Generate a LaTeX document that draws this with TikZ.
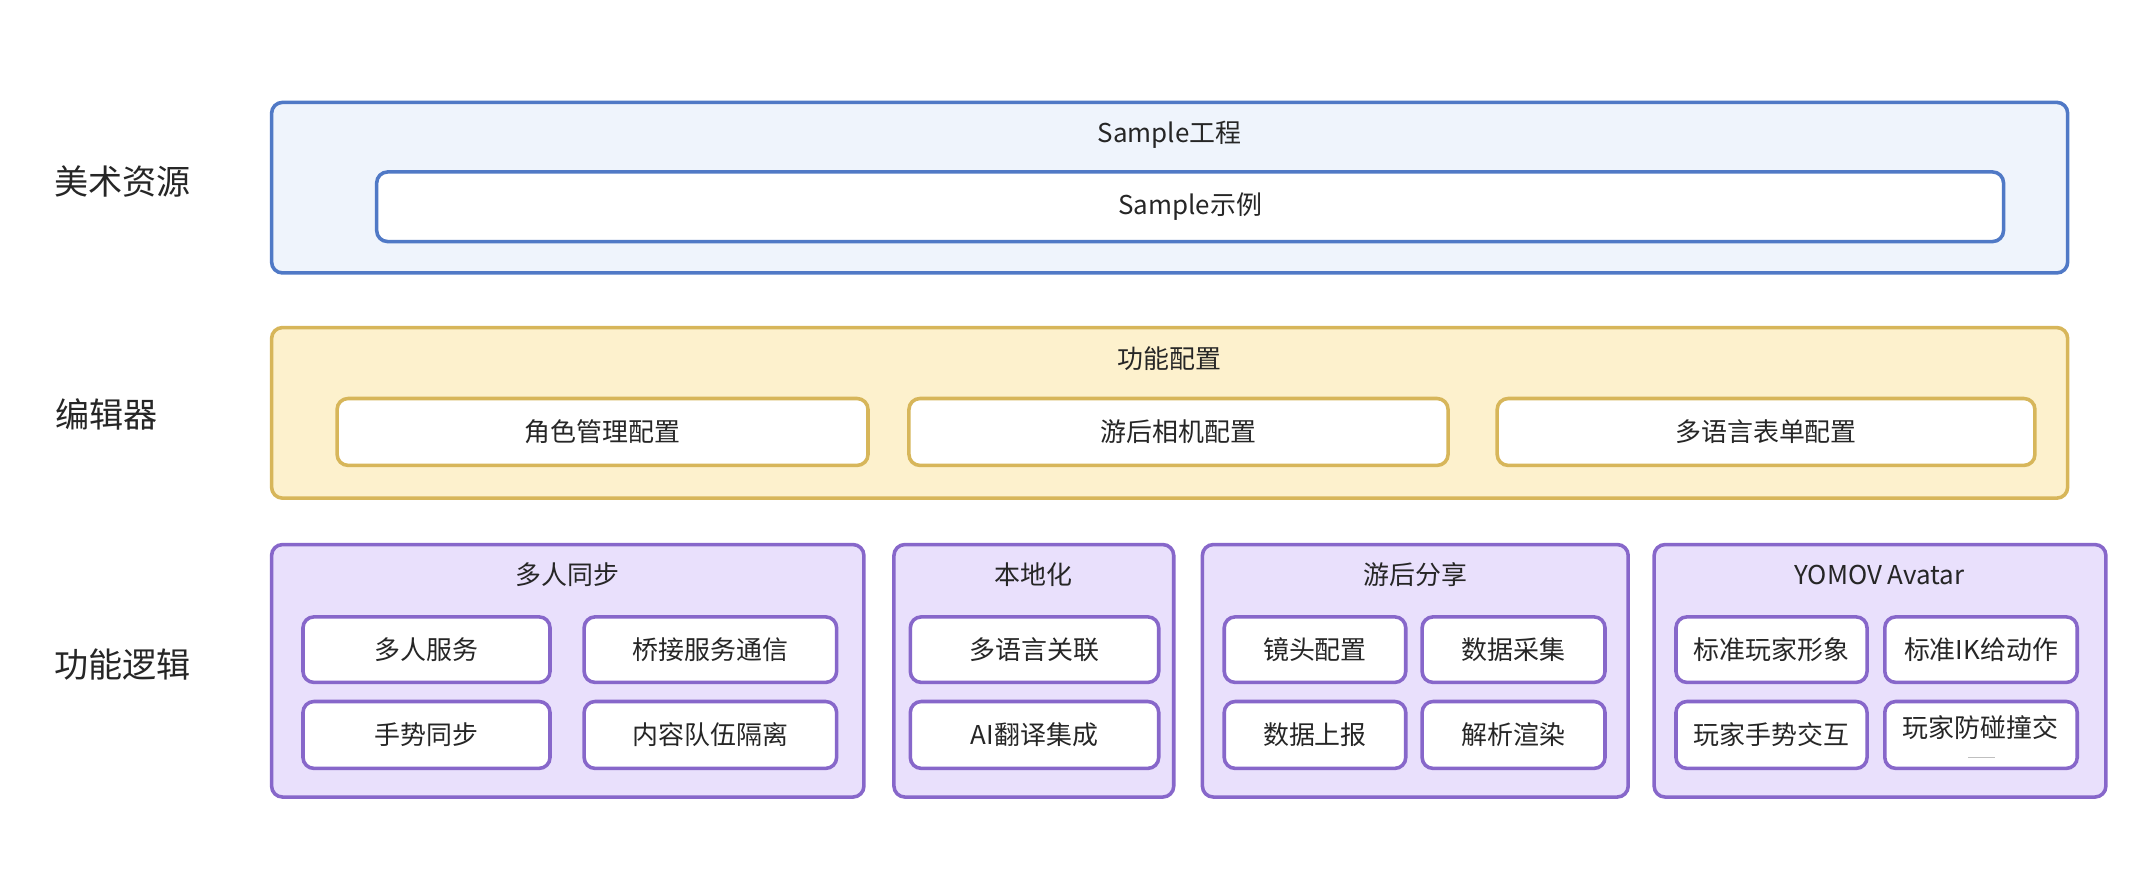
\documentclass[tikz,border=0pt]{standalone}
\usepackage{fontspec}
\setmainfont{Noto Sans CJK SC}
\begin{document}
\begin{tikzpicture}[x=1pt,y=-1pt,
  base/.style={rounded corners=8pt,line width=2.6pt,inner sep=0pt,font=\fontsize{19}{21}\selectfont,text=black!85},
  bo/.style={base,draw=blue1,fill=blueF},
  bi/.style={base,draw=blue1,fill=white},
  yo/.style={base,draw=yel1,fill=yelF},
  yi/.style={base,draw=yel1,fill=white},
  po/.style={base,draw=pur1,fill=purF},
  pi/.style={base,draw=pur1,fill=white},
  ttl/.style={font=\fontsize{19}{21}\selectfont,text=black!85,inner sep=0pt},
  lab/.style={font=\fontsize{25}{27}\selectfont,text=black!85,inner sep=0pt}]
\definecolor{blue1}{HTML}{5079C6}\definecolor{blueF}{HTML}{EFF4FC}
\definecolor{yel1}{HTML}{D7B65A}\definecolor{yelF}{HTML}{FDF1CD}
\definecolor{pur1}{HTML}{8767CA}\definecolor{purF}{HTML}{E9E0FC}
\newcommand\bx[7]{\node[#6,minimum width={(#4)-(#2)},minimum height={(#5)-(#3)}] (#1) at ({((#2)+(#4))/2},{((#3)+(#5))/2}) {#7};}
\useasboundingbox (0,0) rectangle (1568,652);
\node[lab] (l1) at (90,133) {美术资源};
\node[lab] (l2) at (78,304) {编辑器};
\node[lab] (l3) at (90,487) {功能逻辑};
% blue
\bx{A}{199}{75}{1515}{200}{bo}{}
\node[ttl] (At) at (857,99) {Sample工程};
\bx{A1}{276}{126}{1468}{177}{bi}{Sample示例}
% yellow
\bx{B}{199}{240}{1515}{365}{yo}{}
\node[ttl] (Bt) at (857,263) {功能配置};
\bx{B1}{247}{292}{636}{341}{yi}{角色管理配置}
\bx{B2}{666}{292}{1061}{341}{yi}{游后相机配置}
\bx{B3}{1097}{292}{1491}{341}{yi}{多语言表单配置}
% purple groups
\bx{C}{199}{399}{633}{584}{po}{}
\node[ttl] (Ct) at (416,421) {多人同步};
\bx{C1}{222}{452}{403}{500}{pi}{多人服务}
\bx{C2}{428}{452}{613}{500}{pi}{桥接服务通信}
\bx{C3}{222}{514}{403}{563}{pi}{手势同步}
\bx{C4}{428}{514}{613}{563}{pi}{内容队伍隔离}
\bx{D}{655}{399}{860}{584}{po}{}
\node[ttl] (Dt) at (757,421) {本地化};
\bx{D1}{667}{452}{849}{500}{pi}{多语言关联}
\bx{D2}{667}{514}{849}{563}{pi}{AI翻译集成}
\bx{E}{881}{399}{1193}{584}{po}{}
\node[ttl] (Et) at (1037,421) {游后分享};
\bx{E1}{897}{452}{1030}{500}{pi}{镜头配置}
\bx{E2}{1042}{452}{1176}{500}{pi}{数据采集}
\bx{E3}{897}{514}{1030}{563}{pi}{数据上报}
\bx{E4}{1042}{514}{1176}{563}{pi}{解析渲染}
\bx{F}{1212}{399}{1543}{584}{po}{}
\node[ttl] (Ft) at (1377,421) {YOMOV Avatar};
\bx{F1}{1228}{452}{1368}{500}{pi}{标准玩家形象}
\bx{F2}{1381}{452}{1522}{500}{pi}{标准IK给动作}
\bx{F3}{1228}{514}{1368}{563}{pi}{玩家手势交互}
\bx{F4}{1381}{514}{1522}{563}{pi}{}
\node[ttl] (F4t) at (1451,533) {玩家防碰撞交};
\draw[black!25,line width=0.8pt] (1442,555) -- (1462,555);
\end{tikzpicture}
\end{document}
